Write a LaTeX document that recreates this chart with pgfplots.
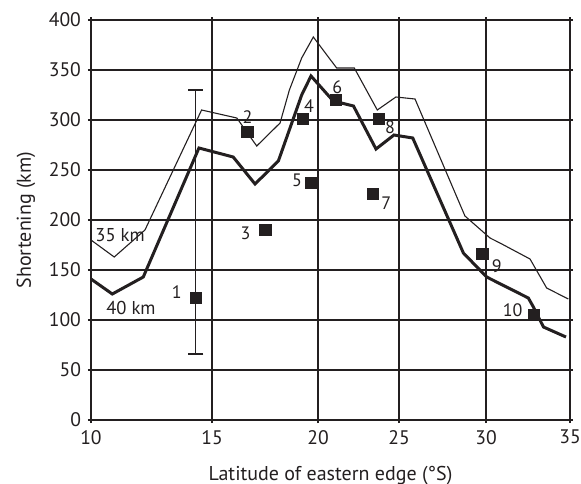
\documentclass[border=0pt]{standalone}
\usepackage{fontspec}
\setmainfont{PT Sans}
\usepackage{pgfplots}
\pgfplotsset{compat=1.18}
\usepackage{pgfplotstable}
\definecolor{ink}{HTML}{231F20}

% thin line: 35 km
\pgfplotstableread{
x y
10.00 180
10.96 163
12.23 190
14.57 310
16.17 302
17.11 274
18.21 297
18.65 330
19.23 362
19.78 383
21.15 352
22.24 352
23.66 310
24.81 323
25.92 321
28.79 204
30.24 182
30.83 177
32.62 161
33.61 132
34.90 121
}\thin

% thick line: 40 km
\pgfplotstableread{
x y
10.00 141
10.88 126
12.16 143
14.46 272
16.00 263
17.03 236
18.13 259
19.23 325
19.67 344
20.94 319
22.19 314
23.58 271
24.69 285
25.79 282
28.70 167
30.04 143
32.52 122
32.82 113
33.42 93
34.76 83
}\thick

% numbered estimates, label offsets in pt
\pgfplotstableread{
x y lab dx dy
14.33 122 1 -9.5 3.0
16.67 288 2 0.0 7.4
17.53 190 3 -10.0 -1.5
19.28 301 4 3.2 6.5
19.70 237 5 -7.3 1.5
21.11 320 6 0.7 6.4
23.38 226 7 6.7 -4.5
23.77 301 8 5.5 -4.0
29.79 166 9 7.2 -6.3
32.86 105 10 -10.7 2.3
}\est

\begin{document}
\begin{tikzpicture}
\begin{axis}[
  name=ax,
  width=239.5pt, height=200pt, scale only axis,
  x coord trafo/.code={\pgfmathparse{ifthenelse(#1<15,(#1-10)*24.2,ifthenelse(#1<20,121+(#1-15)*21.2,ifthenelse(#1<25,227+(#1-20)*16.2,ifthenelse(#1<30,308+(#1-25)*17.4,395+(#1-30)*16.8))))}},
  xmin=10, xmax=35, ymin=0, ymax=400,
  xtick={10,15,20,25,30,35},
  xticklabels={10,15,20,25,30,35},
  ytick={0,50,...,400},
  grid=major,
  grid style={line width=0.6pt, ink},
  axis line style={line width=0.7pt, ink},
  tick style={ink, line width=0.6pt},
  major tick length=1.5pt,
  tick align=outside,
  ticklabel style={font=\fontsize{9.8}{11}\selectfont, text=ink},
  /pgf/number format/assume math mode=true,
  xlabel={Latitude of eastern edge (°S)},
  ylabel={Shortening (km)},
  label style={font=\fontsize{10}{12}\selectfont, text=ink},
  xlabel style={yshift=-4pt},
  ylabel style={yshift=0pt},
]
\addplot[ink, line width=0.55pt, no marks] table[x=x, y=y] {\thin};
\addplot[ink, line width=1.5pt, no marks] table[x=x, y=y] {\thick};
\addplot[ink, line width=0.6pt, no marks, forget plot,
  error bars/.cd, y dir=both, y explicit,
  error bar style={line width=0.6pt, ink},
  error mark options={ink, line width=0.6pt, mark size=3.75pt, rotate=90}]
  coordinates {(14.33,122) += (0,208) -= (0,56)};
\addplot[only marks, mark=square*, mark size=2.9pt, ink,
  point meta=explicit symbolic,
  visualization depends on={\thisrow{dx}\as\dx},
  visualization depends on={\thisrow{dy}\as\dy},
  nodes near coords,
  every node near coord/.append style={anchor=center, xshift=\dx pt, yshift=\dy pt,
    font=\fontsize{9}{10}\selectfont, text=ink, inner sep=0pt}]
  table[x=x, y=y, meta=lab] {\est};
\node[font=\fontsize{9.3}{10}\selectfont, text=ink] at (axis cs:11.2,185) {35 km};
\node[font=\fontsize{9.3}{10}\selectfont, text=ink] at (axis cs:11.65,112) {40 km};
\end{axis}
\pgfresetboundingbox
\path ([xshift=-45.5pt,yshift=10pt]ax.north west) rectangle ([xshift=5.5pt,yshift=-31.5pt]ax.south east);
\end{tikzpicture}
\end{document}
